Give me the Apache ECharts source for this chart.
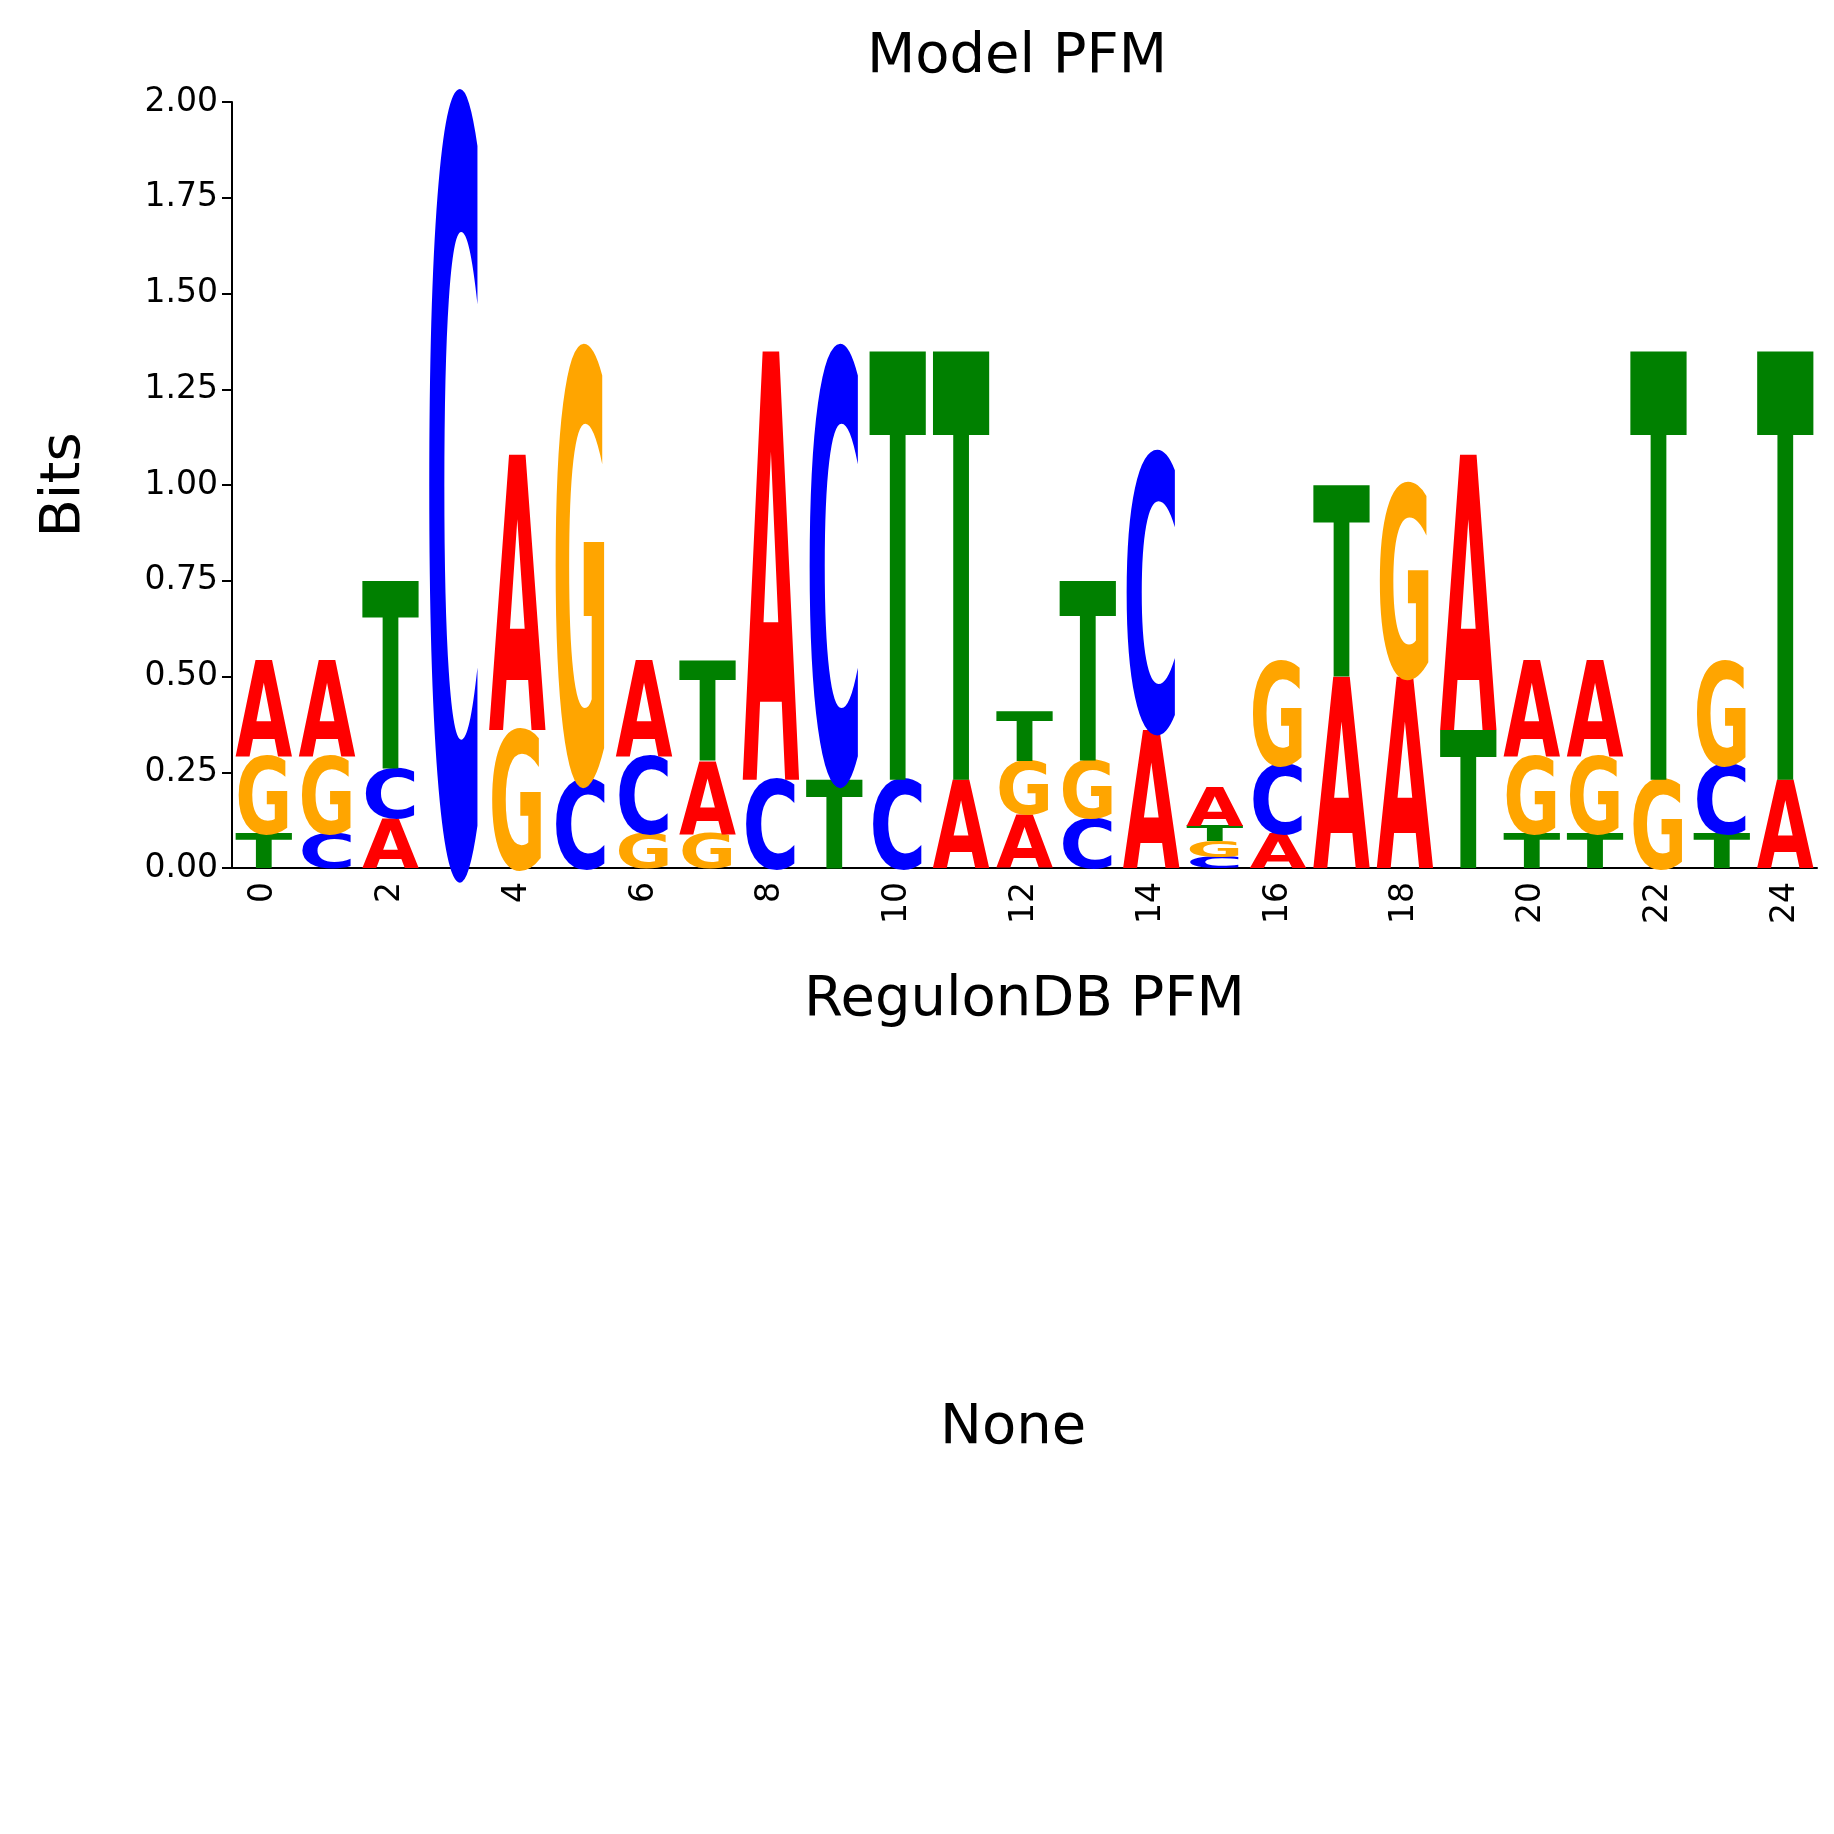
<!DOCTYPE html>
<html>
<head>
<meta charset="utf-8">
<script src="https://cdn.jsdelivr.net/npm/echarts@6/dist/echarts.min.js"></script>
<style>html,body{margin:0;background:#fff}#chart{width:1834px;height:1834px}</style>
</head>
<body>
<div id="chart"></div>
<script>
// positions 0..24
const positions = Array.from({ length: 25 }, (_, i) => String(i));
// letter heights in bits per position
const heightA = [0.25,0.25,0.13,0,0.72,0,0.25,0.19,1.12,0,0,0.23,0.14,0,0.36,0.10,0.09,0.50,0.50,0.72,0.25,0.25,0,0,0.23];
const heightC = [0,0.09,0.13,2.0,0,0.23,0.20,0,0.23,1.12,0.23,0,0,0.13,0.72,0.03,0.18,0,0,0,0,0,0,0.18,0];
const heightG = [0.20,0.20,0,0,0.36,1.12,0.09,0.09,0,0,0,0,0.14,0.15,0,0.04,0.27,0,0.50,0,0.20,0.20,0.23,0.27,0];
const heightT = [0.09,0,0.49,0,0,0,0,0.26,0,0.23,1.12,1.12,0.13,0.47,0,0.04,0,0.50,0,0.36,0.09,0.09,1.12,0.09,1.12];
// stacking order, bottom to top
const stackOrder = ['TGA','CGA','ACT','C','GA','CG','GCA','GAT','CA','TC','CT','AT','AGT','CGT','AC','CGTA','ACG','AT','AG','TA','TGA','TGA','GT','TCG','AT'];
const yTicks = [0, 0.25, 0.5, 0.75, 1, 1.25, 1.5, 1.75, 2];

const colors = { A: '#ff0000', C: '#0000ff', G: '#ffa500', T: '#008000' };
const heights = { A: heightA, C: heightC, G: heightG, T: heightT };
const advance = { A: 0.774, C: 0.734, G: 0.821, T: 0.682 };
const FS = 100;

let myChart = echarts.init(document.getElementById('chart'));

function renderItem(params, api) {
    let idx = params.dataIndex;
    let band = api.size([1, 0])[0] * 0.9;
    let cx = api.coord([idx, 0])[0];
    let base = 0;
    let children = [];
    for (let ch of stackOrder[idx]) {
        let h = heights[ch][idx];
        if (h <= 0) continue;
        let yb = api.coord([idx, base])[1];
        let yt = api.coord([idx, base + h])[1];
        base += h;
        children.push({
            type: 'group',
            x: cx,
            y: (yb + yt) / 2,
            scaleX: band / (advance[ch] * FS),
            scaleY: (yb - yt) / (0.73 * FS),
            children: [{
                type: 'text',
                x: 0,
                y: 0.105 * FS,
                style: {
                    text: ch,
                    fill: colors[ch],
                    font: 'bold ' + FS + 'px "DejaVu Sans"',
                    align: 'center',
                    verticalAlign: 'middle'
                }
            }]
        });
    }
    return { type: 'group', children: children };
}

myChart.setOption({
    backgroundColor: '#fff',
    animation: false,
    title: {
        text: 'Model PFM',
        left: 1012,
        top: 24,
        textAlign: 'center',
        textStyle: { fontFamily: 'DejaVu Sans', fontSize: 56, fontWeight: 'normal', color: '#000' }
    },
    graphic: [{
        type: 'text',
        left: 940,
        top: 1400,
        style: { text: 'None', font: '56px "DejaVu Sans"', fill: '#000' }
    }],
    grid: { left: 232, right: 17, top: 102, height: 766 },
    xAxis: {
        type: 'category',
        data: positions,
        name: 'RegulonDB PFM',
        nameLocation: 'middle',
        nameGap: 104,
        nameTextStyle: { fontFamily: 'DejaVu Sans', fontSize: 56, color: '#000' },
        axisLine: { lineStyle: { color: '#000', width: 2 } },
        axisTick: { alignWithLabel: true, interval: 1, length: 10, lineStyle: { color: '#000', width: 2 } },
        axisLabel: { interval: 1, rotate: 90, fontFamily: 'DejaVu Sans', fontSize: 33, color: '#000', margin: 14 }
    },
    yAxis: {
        type: 'value',
        min: 0,
        max: 2,
        interval: 0.25,
        name: 'Bits',
        nameLocation: 'middle',
        nameGap: 140,
        nameTextStyle: { fontFamily: 'DejaVu Sans', fontSize: 56, color: '#000' },
        splitLine: { show: false },
        axisLine: { show: true, lineStyle: { color: '#000', width: 2 } },
        axisTick: { show: true, length: 10, lineStyle: { color: '#000', width: 2 } },
        axisLabel: {
            fontFamily: 'DejaVu Sans', fontSize: 33, color: '#000', margin: 14,
            formatter: function (v) { return v.toFixed(2); }
        }
    },
    series: [{
        type: 'custom',
        renderItem: renderItem,
        data: positions.map((p, i) => [i, 0]),
        encode: { x: 0, y: 1 }
    }]
});
</script>
</body>
</html>
